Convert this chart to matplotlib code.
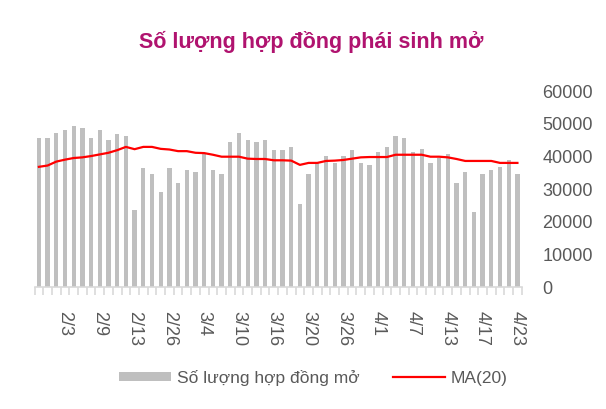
import numpy as np
import matplotlib
matplotlib.use("Agg")
from matplotlib import pyplot as plt

plt.rcParams['font.family'] = ['Liberation Sans', 'DejaVu Sans']

# Open interest per session (bars) and 20-session moving average (line).
open_interest = [45500, 45500, 47300, 48000, 49200, 48600, 45500, 48000, 44900, 46700,
                 46100, 23600, 36300, 34500, 29000, 36300, 32000, 35700, 35100, 40600,
                 35700, 34500, 44300, 47300, 44900, 44300, 44900, 41800, 41800, 43000,
                 25300, 34500, 38000, 40000, 38100, 40000, 41800, 38100, 37500, 41200,
                 43000, 46100, 45500, 41200, 42400, 38100, 39400, 40600, 32000, 35100,
                 22900, 34500, 35700, 36900, 38800, 34500]
ma20 = [36800, 37200, 38400, 39000, 39500, 39700, 40100, 40600, 41100, 41900,
        42900, 42200, 42900, 42900, 42300, 42100, 41600, 41600, 41100, 41000,
        40500, 39900, 39900, 39900, 39300, 39200, 39200, 38800, 38800, 38700,
        37400, 38000, 38000, 38600, 38700, 38900, 39300, 39700, 39800, 39800,
        39800, 40500, 40500, 40500, 40500, 39900, 39900, 39700, 39200, 38600,
        38600, 38600, 38600, 38000, 38000, 38000]
date_labels = ['2/3', '2/9', '2/13', '2/26', '3/4', '3/10', '3/16', '3/20',
               '3/26', '4/1', '4/7', '4/13', '4/17', '4/23']
label_step = 4

title = 'Số lượng hợp đồng phái sinh mở'
bar_name = 'Số lượng hợp đồng mở'
line_name = 'MA(20)'

text_grey = '#595959'

fig = plt.figure(figsize=(6.06, 4.09), dpi=100)
ax = fig.add_axes([0.057, 0.298, 0.804, 0.4795])

x = np.arange(len(open_interest))
bars = ax.bar(x, open_interest, width=0.5, color='#BFBFBF', label=bar_name, zorder=2)
line, = ax.plot(x, ma20, color='#FF0000', linewidth=1.6, label=line_name, zorder=3)

ax.set_xlim(-0.5, len(x) - 0.5)
ax.set_ylim(0, 60000)
ax.set_yticks(np.arange(0, 60001, 10000))

# y axis on the right, no line
ax.yaxis.tick_right()
ax.tick_params(axis='y', length=0, pad=15, labelsize=13, labelcolor=text_grey)
for side in ['top', 'left', 'right']:
    ax.spines[side].set_visible(False)
ax.spines['bottom'].set_color('#D9D9D9')
ax.spines['bottom'].set_linewidth(1.2)

# category boundary ticks and sparse date labels
ax.set_xticks(np.arange(-0.5, len(x), 1), minor=True)
ax.tick_params(axis='x', which='minor', length=6, width=1.2, color='#D9D9D9')
label_pos = x[label_step - 1::label_step]
ax.set_xticks(label_pos)
ax.set_xticklabels(date_labels, rotation=-90, va='top', ha='center')
ax.tick_params(axis='x', which='major', length=0, pad=17, labelsize=13,
               labelcolor=text_grey)

fig.text(0.513, 0.897, title, ha='center', va='center', fontsize=15.5,
         fontweight='bold', color='#B0136F')

fig.legend([bars, line], [bar_name, line_name], loc='center',
           bbox_to_anchor=(0.517, 0.076), ncol=2, frameon=False,
           fontsize=12.5, labelcolor=text_grey, handlelength=3.0,
           handleheight=0.46, handletextpad=0.35, columnspacing=1.9)

fig.savefig('out.png', dpi=100)
